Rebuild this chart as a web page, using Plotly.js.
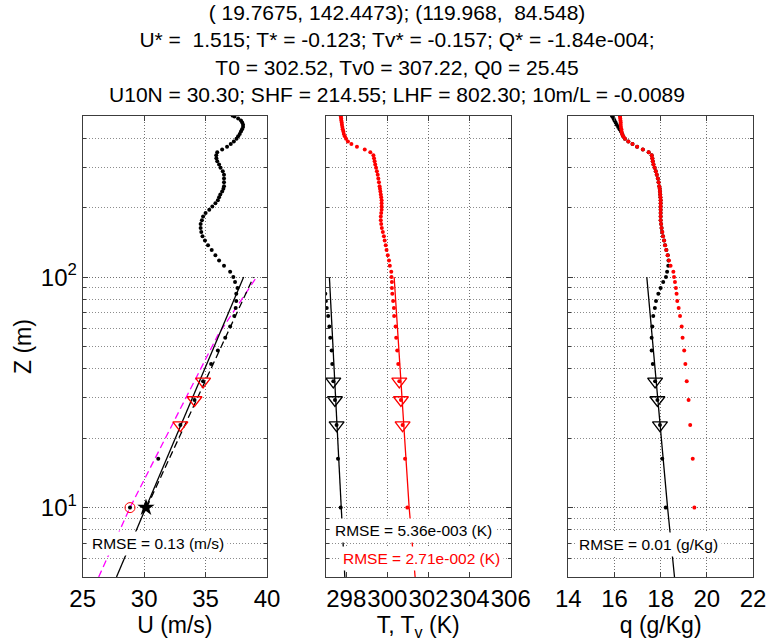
<!DOCTYPE html>
<html>
<head>
<meta charset="utf-8">
<script src="https://cdn.plot.ly/plotly-3.0.1.min.js"></script>
<style>
  html, body { margin: 0; padding: 0; background: #fff; }
  #chart { width: 767px; height: 641px; }
</style>
</head>
<body>
<div id="chart"></div>
<script>
// sonde levels (m), bottom to top
const zLevels = [
  10, 16.3, 22.8, 29.3, 35.3, 42, 48, 54.5, 61, 67.8, 73.5, 78.8, 84.7, 89.7, 95.3, 100, 105.5,
  112, 118, 124.5, 131, 137.5, 144, 150.5, 157, 163.5, 170, 176.5, 183, 189.5, 196, 202.5, 209,
  215.5, 222, 228.5, 235, 241.5, 248, 258, 268, 278, 288, 298, 308, 318, 328, 338, 348, 358,
  368, 378, 388, 398, 408, 418, 428, 438, 448, 458, 468, 478, 488, 498, 502
];

// wind speed U (m/s)
const windObs = [
  28.85, 31.15, 32.95, 34.1, 34.8, 35.45, 36.0, 36.6, 37.0, 37.34, 37.45, 37.5, 37.5, 37.6, 37.4, 37.26, 37.0,
  36.5, 36.1, 35.8, 35.5, 35.2, 34.95, 34.75, 34.65, 34.6, 34.6, 34.7, 34.8, 35.0, 35.3, 35.55, 35.8,
  36.0, 36.1, 36.2, 36.35, 36.45, 36.5, 36.5, 36.5, 36.5, 36.4, 36.22, 36.1, 35.95, 35.88, 35.87, 35.95, 36.35,
  36.75, 37.05, 37.3, 37.52, 37.65, 37.78, 37.88, 37.97, 38.05, 38.05, 37.98, 37.88, 37.65, 37.35, 37.2
];

// temperature T (K), only the lowest levels fall inside the axis
const tObs = [297.73, 297.6, 297.53, 297.45, 297.37, 297.32, 297.29, 297.22, 297.18, 297.12, 297.05, 297.01, 296.98];

// virtual temperature Tv (K)
const tvObs = [
  300.97, 300.86, 300.74, 300.66, 300.58, 300.53, 300.48, 300.43, 300.4, 300.33, 300.32, 300.28, 300.24, 300.22, 300.22, 300.2, 300.19,
  300.12, 300.08, 300.02, 299.96, 299.92, 299.87, 299.83, 299.78, 299.73, 299.7, 299.68, 299.68, 299.7, 299.72, 299.72, 299.72,
  299.72, 299.7, 299.68, 299.66, 299.64, 299.62, 299.59, 299.56, 299.53, 299.49, 299.45, 299.41, 299.38, 299.35, 299.32, 299.17, 298.9,
  298.52, 298.25, 298.08, 297.99, 297.93, 297.88, 297.86, 297.83, 297.81, 297.79, 297.78, 297.76, 297.75, 297.74, 297.73
];

// specific humidity q (g/Kg), black and red profiles
const qObs = [
  18.22, 18.07, 17.97, 17.86, 17.76, 17.66, 17.61, 17.61, 17.64, 17.68, 17.75, 17.8, 17.9, 18.0, 18.11, 18.23, 18.28,
  18.33, 18.34, 18.31, 18.25, 18.19, 18.15, 18.1, 18.07, 18.04, 18.02, 18.0, 18.0, 18.0, 18.0, 18.0, 18.0,
  18.0, 17.99, 17.98, 17.97, 17.96, 17.94, 17.91, 17.88, 17.83, 17.79, 17.74, 17.69, 17.66, 17.64, 17.61, 17.48, 17.23,
  16.98, 16.78, 16.6, 16.45, 16.38, 16.34, 16.28, 16.22, 16.16, 16.1, 16.05, 16.0, 15.96, 15.91, 15.89
];
const qObs2 = [
  19.46, 19.39, 19.28, 19.21, 19.13, 19.07, 19.02, 18.95, 18.91, 18.84, 18.78, 18.72, 18.69, 18.66, 18.62, 18.58, 18.55,
  18.43, 18.36, 18.3, 18.24, 18.19, 18.15, 18.1, 18.07, 18.04, 18.02, 18.0, 18.0, 18.0, 18.0, 18.0, 18.0,
  18.0, 17.99, 17.98, 17.97, 17.96, 17.94, 17.91, 17.88, 17.83, 17.79, 17.74, 17.69, 17.66, 17.64, 17.61, 17.48, 17.23,
  16.98, 16.78, 16.6, 16.45, 16.38, 16.33, 16.31, 16.3, 16.28, 16.27, 16.27, 16.26, 16.25, 16.24, 16.24
];

// fitted profiles
const fitZ = [5, 10, 100];
const uFit = [27.75, 30.15, 38.1];
const tFit = [297.93, 297.75, 297.18];
const tvFit = [301.35, 301.06, 300.33];
const qFit = [18.6, 18.3, 17.4];
const dashZ = [10, 100];
const uDash = [30.2, 38.9];
const magentaZ = [5, 10, 56, 100];
const uMagenta = [26.3, 28.85, 36.0, 39.15];

// triangle levels and values
const triZ = [35.3, 29.3, 22.8];
const uTri = [34.8, 34.1, 32.95];
const tTri = [297.37, 297.45, 297.53];
const tvTri = [300.58, 300.66, 300.74];
const qTri = [17.76, 17.86, 17.97];

// 10 m points
const z10 = [10];
const u10Star = [30.15];
const u10Circle = [28.85];

// axes
const uTicks = [25, 30, 35, 40];
const tTicks = [298, 300, 302, 304, 306];
const qTicks = [14, 16, 18, 20, 22];
const zMajor = [10, 100];
const zMajorText = ['10<sup>1</sup>', '10<sup>2</sup>'];
const zMinor = [5, 6, 7, 8, 9, 20, 30, 40, 50, 60, 70, 80, 90, 200, 300, 400];

const titleLines = [
  '( 19.7675, 142.4473); (119.968,  84.548)',
  'U* =  1.515; T* = -0.123; Tv* = -0.157; Q* = -1.84e-004;',
  'T0 = 302.52, Tv0 = 307.22, Q0 = 25.45',
  'U10N = 30.30; SHF = 214.55; LHF = 802.30; 10m/L = -0.0089'
];

const W = 767, H = 641;
const FONT = 'Liberation Sans, Arial, sans-serif';

function dots(x, y, color, xa, ya) {
  return { type: 'scatter', mode: 'markers', x: x, y: y, xaxis: xa, yaxis: ya,
    marker: { color: color, size: 4 } };
}
function line(x, y, color, dash, xa, ya) {
  return { type: 'scatter', mode: 'lines', x: x, y: y, xaxis: xa, yaxis: ya,
    line: { color: color, width: 1.3, dash: dash } };
}
function tris(x, color, xa, ya) {
  return { type: 'scatter', mode: 'markers', x: x, y: triZ, xaxis: xa, yaxis: ya,
    marker: { symbol: 'triangle-down-open', size: 13, color: color, line: { color: color, width: 1.3 } } };
}

const data = [
  // panel 1
  line(uMagenta, magentaZ, '#ff00ff', '7px,4px', 'x', 'y'),
  line(uFit, fitZ, '#000', 'solid', 'x', 'y'),
  line(uDash, dashZ, '#000', '7px,4px', 'x', 'y'),
  dots(windObs, zLevels, '#000', 'x', 'y'),
  tris(uTri, '#ff0000', 'x', 'y'),
  { type: 'scatter', mode: 'markers', x: u10Circle, y: z10, xaxis: 'x', yaxis: 'y',
    marker: { symbol: 'circle-open', size: 10, color: '#ff0000', line: { color: '#ff0000', width: 1 } } },
  { type: 'scatter', mode: 'markers', x: u10Star, y: z10, xaxis: 'x', yaxis: 'y',
    marker: { symbol: 'star', size: 13, color: '#000' } },
  // panel 2
  line(tFit, fitZ, '#000', 'solid', 'x2', 'y2'),
  line(tvFit, fitZ, '#ff0000', 'solid', 'x2', 'y2'),
  dots(tObs, zLevels.slice(0, tObs.length), '#000', 'x2', 'y2'),
  dots(tvObs, zLevels, '#ff0000', 'x2', 'y2'),
  tris(tTri, '#000', 'x2', 'y2'),
  tris(tvTri, '#ff0000', 'x2', 'y2'),
  // panel 3
  line(qFit, fitZ, '#000', 'solid', 'x3', 'y3'),
  dots(qObs, zLevels, '#000', 'x3', 'y3'),
  dots(qObs2, zLevels, '#ff0000', 'x3', 'y3'),
  tris(qTri, '#000', 'x3', 'y3')
];

const axisBase = {
  showline: true, linecolor: '#3c3c3c', linewidth: 1, mirror: 'ticks',
  ticks: 'inside', ticklen: 5, tickcolor: '#3c3c3c',
  showgrid: true, gridcolor: '#707070', griddash: '1px,2px', gridwidth: 1,
  zeroline: false, tickangle: 0, ticklabeloverflow: 'allow', automargin: false,
  tickfont: { family: FONT, size: 24, color: '#000' }
};

function xAxis(domain, range, ticks, title, anchor) {
  return Object.assign({}, axisBase, {
    domain: domain, range: range, anchor: anchor,
    tickmode: 'array', tickvals: ticks,
    title: { text: title, font: { family: FONT, size: 23, color: '#000' }, standoff: 1 }
  });
}
function yAxis(anchor, labels) {
  const ax = Object.assign({}, axisBase, {
    type: 'log', range: [Math.log10(5), Math.log10(500)],
    domain: [1 - 577 / H, 1 - 116 / H], anchor: anchor,
    tickmode: 'array', tickvals: zMajor, ticktext: zMajorText, showticklabels: labels,
    minor: { tickmode: 'array', tickvals: zMinor, ticks: 'inside', ticklen: 3, tickcolor: '#3c3c3c',
      showgrid: true, gridcolor: '#8c8c8c', griddash: '1px,2px', gridwidth: 1 }
  });
  if (labels) {
    ax.title = { text: 'Z (m)', font: { family: FONT, size: 23, color: '#000' }, standoff: 2 };
  }
  return ax;
}

function rmse(text, cx, cy, color) {
  return { text: text, xref: 'paper', yref: 'paper', x: cx / W, y: 1 - cy / H,
    xanchor: 'center', yanchor: 'middle', showarrow: false, bgcolor: '#fff', borderpad: 3,
    font: { family: FONT, size: 15.5, color: color } };
}

const layout = {
  width: W, height: H,
  margin: { l: 0, r: 0, t: 0, b: 0 },
  paper_bgcolor: '#fff', plot_bgcolor: '#fff',
  showlegend: false,
  font: { family: FONT, color: '#000' },
  title: {
    text: titleLines.join('<br>'),
    font: { family: FONT, size: 21, color: '#000' },
    xref: 'container', yref: 'container', x: 397 / W, xanchor: 'center', y: 1 - 20 / H, yanchor: 'top'
  },
  xaxis: xAxis([82.7 / W, 267 / W], [25, 40], uTicks, 'U (m/s)', 'y'),
  xaxis2: xAxis([325.7 / W, 510.7 / W], [297, 306], tTicks, 'T, T<sub>v</sub> (K)', 'y2'),
  xaxis3: xAxis([568.3 / W, 753 / W], [14, 22], qTicks, 'q (g/Kg)', 'y3'),
  yaxis: yAxis('x', true),
  yaxis2: yAxis('x2', false),
  yaxis3: yAxis('x3', false),
  annotations: [
    rmse('RMSE = 0.13 (m/s)', 158, 543, '#000'),
    rmse('RMSE = 5.36e-003 (K)', 414, 530, '#000'),
    rmse('RMSE = 2.71e-002 (K)', 421, 558, '#ff0000'),
    rmse('RMSE = 0.01 (g/Kg)', 648, 544, '#000')
  ]
};

Plotly.newPlot(document.getElementById('chart'), data, layout, { staticPlot: true });
</script>
</body>
</html>
